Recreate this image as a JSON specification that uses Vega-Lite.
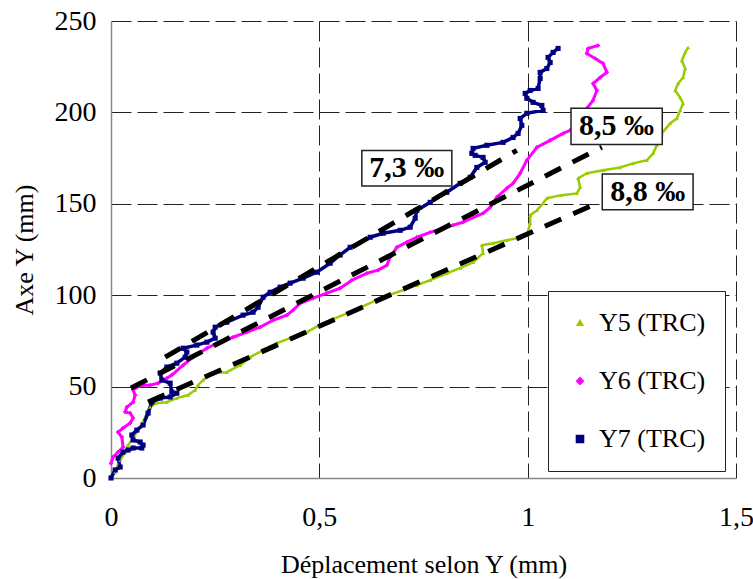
{
  "$schema": "https://vega.github.io/schema/vega-lite/v6.json",
  "width": 625,
  "height": 457,
  "autosize": {"type": "none"},
  "padding": {"left": 111, "top": 21, "right": 17, "bottom": 101},
  "config": {
    "view": {"stroke": null},
    "font": "Liberation Serif",
    "axis": {
      "grid": true,
      "gridDash": [20, 6],
      "gridColor": "#222",
      "gridWidth": 1,
      "domainColor": "#888",
      "domainWidth": 1.5,
      "ticks": false,
      "labelFont": "Liberation Serif",
      "labelFontSize": 28,
      "labelColor": "black",
      "labelFlush": false,
      "labelOverlap": false,
      "labelBound": false,
      "titleFont": "Liberation Serif",
      "titleFontSize": 26,
      "titleFontWeight": "normal",
      "titleColor": "black"
    }
  },
  "datasets": {
    "curves": [
      {"s":"Y5 (TRC)","i":0,"d":0,"y":0},{"s":"Y5 (TRC)","i":1,"d":0.010,"y":3.3},{"s":"Y5 (TRC)","i":2,"d":0.017,"y":7.1},{"s":"Y5 (TRC)","i":3,"d":0.022,"y":9.8},{"s":"Y5 (TRC)","i":4,"d":0.034,"y":14.2},{"s":"Y5 (TRC)","i":5,"d":0.041,"y":18.0},{"s":"Y5 (TRC)","i":6,"d":0.053,"y":21.9},{"s":"Y5 (TRC)","i":7,"d":0.065,"y":26.2},{"s":"Y5 (TRC)","i":8,"d":0.077,"y":30.6},{"s":"Y5 (TRC)","i":9,"d":0.086,"y":35.5},{"s":"Y5 (TRC)","i":10,"d":0.094,"y":38.8},{"s":"Y5 (TRC)","i":11,"d":0.108,"y":41.0},{"s":"Y5 (TRC)","i":12,"d":0.134,"y":41.5},{"s":"Y5 (TRC)","i":13,"d":0.158,"y":43.7},{"s":"Y5 (TRC)","i":14,"d":0.185,"y":45.4},{"s":"Y5 (TRC)","i":15,"d":0.202,"y":48.1},{"s":"Y5 (TRC)","i":16,"d":0.209,"y":50.8},{"s":"Y5 (TRC)","i":17,"d":0.221,"y":53.6},{"s":"Y5 (TRC)","i":18,"d":0.245,"y":57.4},{"s":"Y5 (TRC)","i":19,"d":0.278,"y":57.9},{"s":"Y5 (TRC)","i":20,"d":0.310,"y":61.7},{"s":"Y5 (TRC)","i":21,"d":0.334,"y":66.1},{"s":"Y5 (TRC)","i":22,"d":0.365,"y":69.9},{"s":"Y5 (TRC)","i":23,"d":0.398,"y":73.8},{"s":"Y5 (TRC)","i":24,"d":0.430,"y":76.5},{"s":"Y5 (TRC)","i":25,"d":0.470,"y":79.8},{"s":"Y5 (TRC)","i":26,"d":0.509,"y":84.7},{"s":"Y5 (TRC)","i":27,"d":0.574,"y":90.7},{"s":"Y5 (TRC)","i":28,"d":0.653,"y":98.9},{"s":"Y5 (TRC)","i":29,"d":0.734,"y":105.5},{"s":"Y5 (TRC)","i":30,"d":0.766,"y":108.2},{"s":"Y5 (TRC)","i":31,"d":0.806,"y":112.0},{"s":"Y5 (TRC)","i":32,"d":0.838,"y":114.8},{"s":"Y5 (TRC)","i":33,"d":0.869,"y":118.0},{"s":"Y5 (TRC)","i":34,"d":0.893,"y":123.0},{"s":"Y5 (TRC)","i":35,"d":0.890,"y":127.3},{"s":"Y5 (TRC)","i":36,"d":0.917,"y":128.4},{"s":"Y5 (TRC)","i":37,"d":0.950,"y":130.1},{"s":"Y5 (TRC)","i":38,"d":0.974,"y":131.1},{"s":"Y5 (TRC)","i":39,"d":0.998,"y":132.8},{"s":"Y5 (TRC)","i":40,"d":1.006,"y":139.3},{"s":"Y5 (TRC)","i":41,"d":1.006,"y":143.7},{"s":"Y5 (TRC)","i":42,"d":1.022,"y":146.4},{"s":"Y5 (TRC)","i":43,"d":1.037,"y":150.3},{"s":"Y5 (TRC)","i":44,"d":1.046,"y":153.0},{"s":"Y5 (TRC)","i":45,"d":1.078,"y":154.6},{"s":"Y5 (TRC)","i":46,"d":1.118,"y":155.7},{"s":"Y5 (TRC)","i":47,"d":1.126,"y":159.0},{"s":"Y5 (TRC)","i":48,"d":1.121,"y":163.9},{"s":"Y5 (TRC)","i":49,"d":1.142,"y":166.7},{"s":"Y5 (TRC)","i":50,"d":1.181,"y":168.3},{"s":"Y5 (TRC)","i":51,"d":1.222,"y":169.9},{"s":"Y5 (TRC)","i":52,"d":1.253,"y":172.1},{"s":"Y5 (TRC)","i":53,"d":1.286,"y":173.8},{"s":"Y5 (TRC)","i":54,"d":1.301,"y":177.6},{"s":"Y5 (TRC)","i":55,"d":1.310,"y":182.0},{"s":"Y5 (TRC)","i":56,"d":1.322,"y":188.5},{"s":"Y5 (TRC)","i":57,"d":1.342,"y":194.0},{"s":"Y5 (TRC)","i":58,"d":1.358,"y":196.7},{"s":"Y5 (TRC)","i":59,"d":1.366,"y":201.1},{"s":"Y5 (TRC)","i":60,"d":1.373,"y":204.9},{"s":"Y5 (TRC)","i":61,"d":1.366,"y":208.2},{"s":"Y5 (TRC)","i":62,"d":1.354,"y":212.0},{"s":"Y5 (TRC)","i":63,"d":1.361,"y":215.8},{"s":"Y5 (TRC)","i":64,"d":1.373,"y":219.1},{"s":"Y5 (TRC)","i":65,"d":1.378,"y":224.0},{"s":"Y5 (TRC)","i":66,"d":1.370,"y":228.4},{"s":"Y5 (TRC)","i":67,"d":1.378,"y":232.8},{"s":"Y5 (TRC)","i":68,"d":1.385,"y":235.5},
      {"s":"Y6 (TRC)","i":0,"d":0.0,"y":8.0},{"s":"Y6 (TRC)","i":1,"d":0.005,"y":11.5},{"s":"Y6 (TRC)","i":2,"d":0.017,"y":14.2},{"s":"Y6 (TRC)","i":3,"d":0.029,"y":16.9},{"s":"Y6 (TRC)","i":4,"d":0.026,"y":22.4},{"s":"Y6 (TRC)","i":5,"d":0.017,"y":25.1},{"s":"Y6 (TRC)","i":6,"d":0.029,"y":27.3},{"s":"Y6 (TRC)","i":7,"d":0.046,"y":30.1},{"s":"Y6 (TRC)","i":8,"d":0.053,"y":32.8},{"s":"Y6 (TRC)","i":9,"d":0.046,"y":35.5},{"s":"Y6 (TRC)","i":10,"d":0.034,"y":36.1},{"s":"Y6 (TRC)","i":11,"d":0.038,"y":38.8},{"s":"Y6 (TRC)","i":12,"d":0.053,"y":41.5},{"s":"Y6 (TRC)","i":13,"d":0.058,"y":45.4},{"s":"Y6 (TRC)","i":14,"d":0.053,"y":48.1},{"s":"Y6 (TRC)","i":15,"d":0.062,"y":49.7},{"s":"Y6 (TRC)","i":16,"d":0.077,"y":50.8},{"s":"Y6 (TRC)","i":17,"d":0.094,"y":50.8},{"s":"Y6 (TRC)","i":18,"d":0.113,"y":51.9},{"s":"Y6 (TRC)","i":19,"d":0.134,"y":54.6},{"s":"Y6 (TRC)","i":20,"d":0.146,"y":56.3},{"s":"Y6 (TRC)","i":21,"d":0.173,"y":61.7},{"s":"Y6 (TRC)","i":22,"d":0.197,"y":66.1},{"s":"Y6 (TRC)","i":23,"d":0.230,"y":71.0},{"s":"Y6 (TRC)","i":24,"d":0.262,"y":74.3},{"s":"Y6 (TRC)","i":25,"d":0.293,"y":77.0},{"s":"Y6 (TRC)","i":26,"d":0.326,"y":79.8},{"s":"Y6 (TRC)","i":27,"d":0.358,"y":82.5},{"s":"Y6 (TRC)","i":28,"d":0.389,"y":86.3},{"s":"Y6 (TRC)","i":29,"d":0.422,"y":89.1},{"s":"Y6 (TRC)","i":30,"d":0.437,"y":91.8},{"s":"Y6 (TRC)","i":31,"d":0.454,"y":95.6},{"s":"Y6 (TRC)","i":32,"d":0.485,"y":98.4},{"s":"Y6 (TRC)","i":33,"d":0.518,"y":101.1},{"s":"Y6 (TRC)","i":34,"d":0.550,"y":103.8},{"s":"Y6 (TRC)","i":35,"d":0.578,"y":108.2},{"s":"Y6 (TRC)","i":36,"d":0.614,"y":112.0},{"s":"Y6 (TRC)","i":37,"d":0.641,"y":113.7},{"s":"Y6 (TRC)","i":38,"d":0.662,"y":116.4},{"s":"Y6 (TRC)","i":39,"d":0.670,"y":120.8},{"s":"Y6 (TRC)","i":40,"d":0.686,"y":126.2},{"s":"Y6 (TRC)","i":41,"d":0.710,"y":129.0},{"s":"Y6 (TRC)","i":42,"d":0.734,"y":131.7},{"s":"Y6 (TRC)","i":43,"d":0.766,"y":134.4},{"s":"Y6 (TRC)","i":44,"d":0.797,"y":136.6},{"s":"Y6 (TRC)","i":45,"d":0.821,"y":138.3},{"s":"Y6 (TRC)","i":46,"d":0.845,"y":139.9},{"s":"Y6 (TRC)","i":47,"d":0.869,"y":142.6},{"s":"Y6 (TRC)","i":48,"d":0.893,"y":144.8},{"s":"Y6 (TRC)","i":49,"d":0.910,"y":148.1},{"s":"Y6 (TRC)","i":50,"d":0.926,"y":153.6},{"s":"Y6 (TRC)","i":51,"d":0.950,"y":158.5},{"s":"Y6 (TRC)","i":52,"d":0.965,"y":161.2},{"s":"Y6 (TRC)","i":53,"d":0.982,"y":166.7},{"s":"Y6 (TRC)","i":54,"d":0.998,"y":173.8},{"s":"Y6 (TRC)","i":55,"d":1.022,"y":180.9},{"s":"Y6 (TRC)","i":56,"d":1.054,"y":184.7},{"s":"Y6 (TRC)","i":57,"d":1.085,"y":188.5},{"s":"Y6 (TRC)","i":58,"d":1.102,"y":190.2},{"s":"Y6 (TRC)","i":59,"d":1.125,"y":196.7},{"s":"Y6 (TRC)","i":60,"d":1.142,"y":202.2},{"s":"Y6 (TRC)","i":61,"d":1.157,"y":206.6},{"s":"Y6 (TRC)","i":62,"d":1.166,"y":212.0},{"s":"Y6 (TRC)","i":63,"d":1.157,"y":215.8},{"s":"Y6 (TRC)","i":64,"d":1.174,"y":219.1},{"s":"Y6 (TRC)","i":65,"d":1.190,"y":221.9},{"s":"Y6 (TRC)","i":66,"d":1.181,"y":226.8},{"s":"Y6 (TRC)","i":67,"d":1.162,"y":229.5},{"s":"Y6 (TRC)","i":68,"d":1.142,"y":232.2},{"s":"Y6 (TRC)","i":69,"d":1.145,"y":235.0},{"s":"Y6 (TRC)","i":70,"d":1.169,"y":236.6},
      {"s":"Y7 (TRC)","i":0,"d":0,"y":0},{"s":"Y7 (TRC)","i":1,"d":0.010,"y":4.4},{"s":"Y7 (TRC)","i":2,"d":0.022,"y":6.0},{"s":"Y7 (TRC)","i":3,"d":0.017,"y":10.9},{"s":"Y7 (TRC)","i":4,"d":0.029,"y":14.2},{"s":"Y7 (TRC)","i":5,"d":0.041,"y":15.3},{"s":"Y7 (TRC)","i":6,"d":0.053,"y":16.4},{"s":"Y7 (TRC)","i":7,"d":0.074,"y":16.4},{"s":"Y7 (TRC)","i":8,"d":0.077,"y":18.0},{"s":"Y7 (TRC)","i":9,"d":0.070,"y":19.7},{"s":"Y7 (TRC)","i":10,"d":0.053,"y":20.8},{"s":"Y7 (TRC)","i":11,"d":0.050,"y":23.5},{"s":"Y7 (TRC)","i":12,"d":0.062,"y":26.2},{"s":"Y7 (TRC)","i":13,"d":0.077,"y":29.0},{"s":"Y7 (TRC)","i":14,"d":0.089,"y":35.5},{"s":"Y7 (TRC)","i":15,"d":0.098,"y":41.5},{"s":"Y7 (TRC)","i":16,"d":0.118,"y":43.7},{"s":"Y7 (TRC)","i":17,"d":0.142,"y":44.3},{"s":"Y7 (TRC)","i":18,"d":0.158,"y":46.4},{"s":"Y7 (TRC)","i":19,"d":0.146,"y":47.0},{"s":"Y7 (TRC)","i":20,"d":0.142,"y":51.9},{"s":"Y7 (TRC)","i":21,"d":0.122,"y":53.6},{"s":"Y7 (TRC)","i":22,"d":0.118,"y":57.4},{"s":"Y7 (TRC)","i":23,"d":0.134,"y":60.7},{"s":"Y7 (TRC)","i":24,"d":0.158,"y":62.8},{"s":"Y7 (TRC)","i":25,"d":0.178,"y":66.1},{"s":"Y7 (TRC)","i":26,"d":0.182,"y":68.9},{"s":"Y7 (TRC)","i":27,"d":0.173,"y":71.0},{"s":"Y7 (TRC)","i":28,"d":0.206,"y":72.7},{"s":"Y7 (TRC)","i":29,"d":0.230,"y":74.3},{"s":"Y7 (TRC)","i":30,"d":0.250,"y":76.5},{"s":"Y7 (TRC)","i":31,"d":0.245,"y":79.8},{"s":"Y7 (TRC)","i":32,"d":0.250,"y":82.5},{"s":"Y7 (TRC)","i":33,"d":0.278,"y":85.2},{"s":"Y7 (TRC)","i":34,"d":0.317,"y":89.1},{"s":"Y7 (TRC)","i":35,"d":0.341,"y":90.7},{"s":"Y7 (TRC)","i":36,"d":0.353,"y":93.4},{"s":"Y7 (TRC)","i":37,"d":0.365,"y":98.9},{"s":"Y7 (TRC)","i":38,"d":0.382,"y":101.6},{"s":"Y7 (TRC)","i":39,"d":0.406,"y":104.4},{"s":"Y7 (TRC)","i":40,"d":0.430,"y":106.6},{"s":"Y7 (TRC)","i":41,"d":0.461,"y":109.3},{"s":"Y7 (TRC)","i":42,"d":0.494,"y":112.6},{"s":"Y7 (TRC)","i":43,"d":0.526,"y":117.5},{"s":"Y7 (TRC)","i":44,"d":0.550,"y":122.0},{"s":"Y7 (TRC)","i":45,"d":0.574,"y":126.2},{"s":"Y7 (TRC)","i":46,"d":0.622,"y":131.7},{"s":"Y7 (TRC)","i":47,"d":0.653,"y":133.9},{"s":"Y7 (TRC)","i":48,"d":0.694,"y":135.5},{"s":"Y7 (TRC)","i":49,"d":0.718,"y":137.2},{"s":"Y7 (TRC)","i":50,"d":0.730,"y":142.1},{"s":"Y7 (TRC)","i":51,"d":0.734,"y":146.4},{"s":"Y7 (TRC)","i":52,"d":0.766,"y":150.8},{"s":"Y7 (TRC)","i":53,"d":0.806,"y":156.3},{"s":"Y7 (TRC)","i":54,"d":0.838,"y":161.2},{"s":"Y7 (TRC)","i":55,"d":0.862,"y":164.5},{"s":"Y7 (TRC)","i":56,"d":0.878,"y":169.9},{"s":"Y7 (TRC)","i":57,"d":0.898,"y":172.7},{"s":"Y7 (TRC)","i":58,"d":0.893,"y":175.4},{"s":"Y7 (TRC)","i":59,"d":0.874,"y":176.5},{"s":"Y7 (TRC)","i":60,"d":0.866,"y":177.6},{"s":"Y7 (TRC)","i":61,"d":0.869,"y":180.3},{"s":"Y7 (TRC)","i":62,"d":0.902,"y":182.0},{"s":"Y7 (TRC)","i":63,"d":0.941,"y":183.6},{"s":"Y7 (TRC)","i":64,"d":0.965,"y":186.3},{"s":"Y7 (TRC)","i":65,"d":0.977,"y":188.5},{"s":"Y7 (TRC)","i":66,"d":0.986,"y":192.9},{"s":"Y7 (TRC)","i":67,"d":0.982,"y":196.7},{"s":"Y7 (TRC)","i":68,"d":0.998,"y":199.5},{"s":"Y7 (TRC)","i":69,"d":1.037,"y":201.1},{"s":"Y7 (TRC)","i":70,"d":1.034,"y":203.8},{"s":"Y7 (TRC)","i":71,"d":1.013,"y":205.5},{"s":"Y7 (TRC)","i":72,"d":0.998,"y":207.7},{"s":"Y7 (TRC)","i":73,"d":0.994,"y":210.4},{"s":"Y7 (TRC)","i":74,"d":1.006,"y":212.0},{"s":"Y7 (TRC)","i":75,"d":1.025,"y":213.1},{"s":"Y7 (TRC)","i":76,"d":1.030,"y":218.6},{"s":"Y7 (TRC)","i":77,"d":1.030,"y":221.9},{"s":"Y7 (TRC)","i":78,"d":1.046,"y":224.0},{"s":"Y7 (TRC)","i":79,"d":1.054,"y":227.3},{"s":"Y7 (TRC)","i":80,"d":1.049,"y":230.1},{"s":"Y7 (TRC)","i":81,"d":1.061,"y":232.8},{"s":"Y7 (TRC)","i":82,"d":1.073,"y":235.0}
    ],
    "fits": [
      {"g":"7,3","i":0,"d":0.130,"y":66.1},{"g":"7,3","i":1,"d":0.974,"y":179.2},
      {"g":"8,5","i":0,"d":0.048,"y":49.2},{"g":"8,5","i":1,"d":1.178,"y":181.0},
      {"g":"8,8","i":0,"d":0.089,"y":41.5},{"g":"8,8","i":1,"d":1.173,"y":151.0}
    ],
    "labels": [
      {"t":"7,3 ‰","x1":0.602,"x2":0.818,"y1":159.7,"y2":179.2,"xc":0.710,"yc":169.5},
      {"t":"8,5 ‰","x1":1.104,"x2":1.323,"y1":182.5,"y2":202.3,"xc":1.213,"yc":192.4},
      {"t":"8,8 ‰","x1":1.179,"x2":1.397,"y1":146.8,"y2":166.3,"xc":1.288,"yc":156.6}
    ]
  },
  "layer": [
    {
      "data": {"name": "curves"},
      "mark": {"type": "line", "strokeJoin": "round"},
      "encoding": {
        "x": {
          "field": "d", "type": "quantitative",
          "scale": {"domain": [0, 1.5], "nice": false, "zero": false},
          "axis": {
            "title": "Déplacement selon Y (mm)",
            "values": [0, 0.5, 1, 1.5],
            "labelExpr": "replace(format(datum.value, '~g'), '.', ',')",
            "labelPadding": 25,
            "titlePadding": 20,
            "gridOpacity": {"condition": {"test": "datum.value === 0", "value": 0}, "value": 1}
          }
        },
        "y": {
          "field": "y", "type": "quantitative",
          "scale": {"domain": [0, 250], "nice": false},
          "axis": {
            "title": "Axe Y (mm)",
            "values": [0, 50, 100, 150, 200, 250],
            "labelPadding": 15,
            "titlePadding": 17,
            "gridOpacity": {"condition": {"test": "datum.value === 0", "value": 0}, "value": 1}
          }
        },
        "order": {"field": "i", "type": "quantitative"},
        "color": {
          "field": "s", "type": "nominal",
          "scale": {"domain": ["Y5 (TRC)", "Y6 (TRC)", "Y7 (TRC)"], "range": ["#99CC00", "#FF00FF", "#000080"]},
          "legend": {
            "orient": "none",
            "legendX": 437,
            "legendY": 270,
            "title": null,
            "direction": "vertical",
            "fillColor": "white",
            "strokeColor": "#222",
            "padding": 19,
            "rowPadding": 32,
            "labelFont": "Liberation Serif",
            "labelFontSize": 26,
            "labelColor": "black",
            "labelOffset": 6,
            "labelLimit": 0,
            "symbolSize": 900,
            "symbolStrokeWidth": 0,
            "symbolType": "M-0.8,-0.05L0.8,-0.05L0.8,0.05L-0.8,0.05Z"
          }
        },
        "strokeWidth": {
          "field": "s", "type": "nominal",
          "scale": {"domain": ["Y5 (TRC)", "Y6 (TRC)", "Y7 (TRC)"], "range": [2.5, 3.5, 1.3]},
          "legend": null
        }
      }
    },
    {
      "data": {"name": "curves"},
      "mark": {"type": "point", "filled": true, "opacity": 1},
      "encoding": {
        "x": {"field": "d", "type": "quantitative"},
        "y": {"field": "y", "type": "quantitative"},
        "color": {"field": "s", "type": "nominal", "legend": null},
        "shape": {
          "field": "s", "type": "nominal",
          "scale": {"domain": ["Y5 (TRC)", "Y6 (TRC)", "Y7 (TRC)"], "range": ["triangle-up", "diamond", "square"]},
          "legend": null
        },
        "size": {
          "field": "s", "type": "nominal",
          "scale": {"domain": ["Y5 (TRC)", "Y6 (TRC)", "Y7 (TRC)"], "range": [16, 26, 9]},
          "legend": null
        }
      }
    },
    {
      "data": {"name": "fits"},
      "mark": {"type": "line", "color": "black", "strokeWidth": 5, "strokeDash": [18, 13], "strokeCap": "butt"},
      "encoding": {
        "x": {"field": "d", "type": "quantitative"},
        "y": {"field": "y", "type": "quantitative"},
        "detail": {"field": "g", "type": "nominal"},
        "order": {"field": "i", "type": "quantitative"}
      }
    },
    {
      "data": {"name": "labels"},
      "mark": {"type": "rect", "fill": "white", "stroke": "#222", "strokeWidth": 1.5},
      "encoding": {
        "x": {"field": "x1", "type": "quantitative"},
        "x2": {"field": "x2"},
        "y": {"field": "y1", "type": "quantitative"},
        "y2": {"field": "y2"}
      }
    },
    {
      "data": {"name": "labels"},
      "mark": {"type": "text", "font": "Liberation Serif", "fontSize": 30, "fontWeight": "bold", "align": "center", "baseline": "middle", "color": "black"},
      "encoding": {
        "x": {"field": "xc", "type": "quantitative"},
        "y": {"field": "yc", "type": "quantitative"},
        "text": {"field": "t"}
      }
    }
  ]
}
